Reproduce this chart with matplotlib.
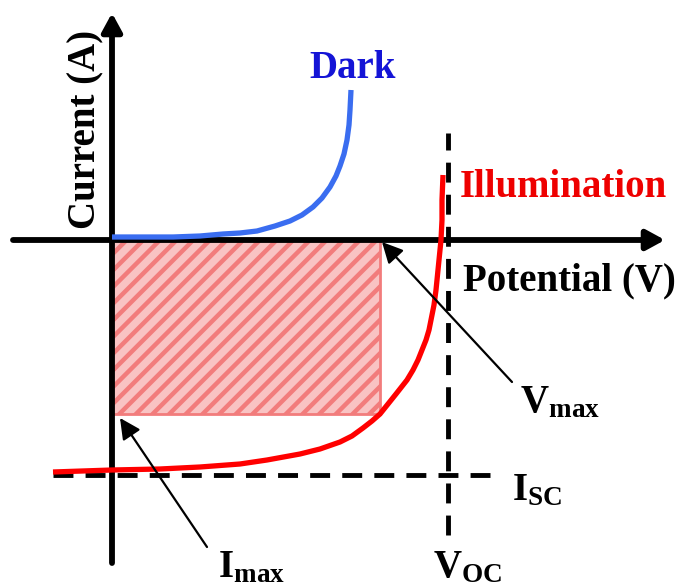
import matplotlib
matplotlib.use('Agg')
import matplotlib.pyplot as plt
from matplotlib.patches import Rectangle

plt.rcParams['font.family'] = ['Liberation Serif', 'DejaVu Serif']
plt.rcParams['font.weight'] = 'bold'
plt.rcParams['mathtext.fontset'] = 'custom'
plt.rcParams['mathtext.rm'] = 'Liberation Serif:bold'
plt.rcParams['mathtext.it'] = 'Liberation Serif:bold'
plt.rcParams['mathtext.bf'] = 'Liberation Serif:bold'
plt.rcParams['hatch.linewidth'] = 3.2

# dark I-V curve (potential, current), arbitrary units
dark_v = [0.00, 0.38, 0.61, 0.88, 1.11, 1.28, 1.45, 1.63, 1.78, 1.90,
          2.01, 2.10, 2.18, 2.24, 2.28, 2.32, 2.35, 2.37, 2.38, 2.39]
dark_i = [0.03, 0.03, 0.03, 0.04, 0.06, 0.07, 0.09, 0.14, 0.19, 0.25,
          0.33, 0.42, 0.53, 0.64, 0.74, 0.86, 1.00, 1.15, 1.30, 1.50]

# illuminated I-V curve
light_v = [-0.59, 0.00, 0.48, 0.88, 1.28, 1.55, 1.88, 2.08, 2.28, 2.40,
           2.51, 2.60, 2.68, 2.76, 2.84, 2.95, 3.01, 3.06, 3.10, 3.14,
           3.17, 3.19, 3.22, 3.24, 3.26, 3.27, 3.29, 3.30, 3.30, 3.31]
light_i = [-2.32, -2.30, -2.29, -2.27, -2.24, -2.20, -2.14, -2.09, -2.02, -1.96,
           -1.88, -1.81, -1.74, -1.64, -1.54, -1.40, -1.30, -1.20, -1.10, -1.00,
           -0.90, -0.80, -0.65, -0.50, -0.30, -0.20, 0.00, 0.20, 0.40, 0.65]

# characteristic points
v_oc, i_sc = 3.36, -2.35
v_max, i_max = 2.68, -1.74

fig = plt.figure(figsize=(6.8, 5.87), dpi=100)
ax = fig.add_axes([0, 0, 1, 1])
ax.set_xlim(-1.12, 5.68)
ax.set_ylim(-3.47, 2.40)
ax.axis('off')

# maximum power rectangle
ax.add_patch(Rectangle((0, i_max), v_max, -i_max, facecolor='#f9c3c3',
                       edgecolor='#f27c7c', hatch='//', lw=2, zorder=1))

# dashed guide lines for Voc and Isc
ax.plot([v_oc, v_oc], [-2.95, 1.07], color='k', lw=3.5,
        dashes=(4.1, 2.5), zorder=2)
ax.plot([-0.59, 3.78], [i_sc, i_sc], color='k', lw=3.5,
        dashes=(4.1, 2.5), zorder=2)

# coordinate axes with arrow heads
axis_arrow = dict(arrowstyle='-|>,head_length=0.55,head_width=0.3',
                  lw=4.2, color='k', shrinkA=0, shrinkB=0,
                  mutation_scale=20)
ax.annotate('', xy=(5.53, 0), xytext=(-0.99, 0), arrowprops=axis_arrow, zorder=3)
ax.annotate('', xy=(0, 2.27), xytext=(0, -3.23), arrowprops=axis_arrow, zorder=3)

ax.plot(dark_v, dark_i, color='#3a6df0', lw=3.8, solid_capstyle='butt',
        solid_joinstyle='round', zorder=4)
ax.plot(light_v, light_i, color='#ff0000', lw=3.8, solid_capstyle='butt',
        solid_joinstyle='round', zorder=4)

# pointers to Vmax and Imax
ptr = dict(arrowstyle='-|>,head_length=0.9,head_width=0.45', lw=1.6,
           color='k', shrinkA=0, shrinkB=0, mutation_scale=14)
ax.annotate('', xy=(2.70, -0.02), xytext=(4.00, -1.42), arrowprops=ptr, zorder=5)
ax.annotate('', xy=(0.08, -1.78), xytext=(0.95, -3.07), arrowprops=ptr, zorder=5)

fs = 28
ax.text(2.41, 1.62, 'Dark', color='#1414d6', fontsize=fs, ha='center', va='baseline')
ax.text(3.48, 0.43, 'Illumination', color='#ee0000', fontsize=fs, ha='left', va='baseline')
ax.text(3.51, -0.50, 'Potential (V)', color='k', fontsize=fs, ha='left', va='baseline')
ax.text(-0.26, 1.11, 'Current (A)', color='k', fontsize=fs, rotation=90,
        ha='center', va='center')

ax.text(4.08, -1.72, r'$\mathrm{V}_{\mathrm{max}}$', fontsize=fs, ha='left', va='baseline')
ax.text(4.00, -2.60, r'$\mathrm{I}_{\mathrm{SC}}$', fontsize=fs, ha='left', va='baseline')
ax.text(1.06, -3.37, r'$\mathrm{I}_{\mathrm{max}}$', fontsize=fs, ha='left', va='baseline')
ax.text(3.21, -3.37, r'$\mathrm{V}_{\mathrm{OC}}$', fontsize=fs, ha='left', va='baseline')

fig.savefig('out.png', dpi=100)
